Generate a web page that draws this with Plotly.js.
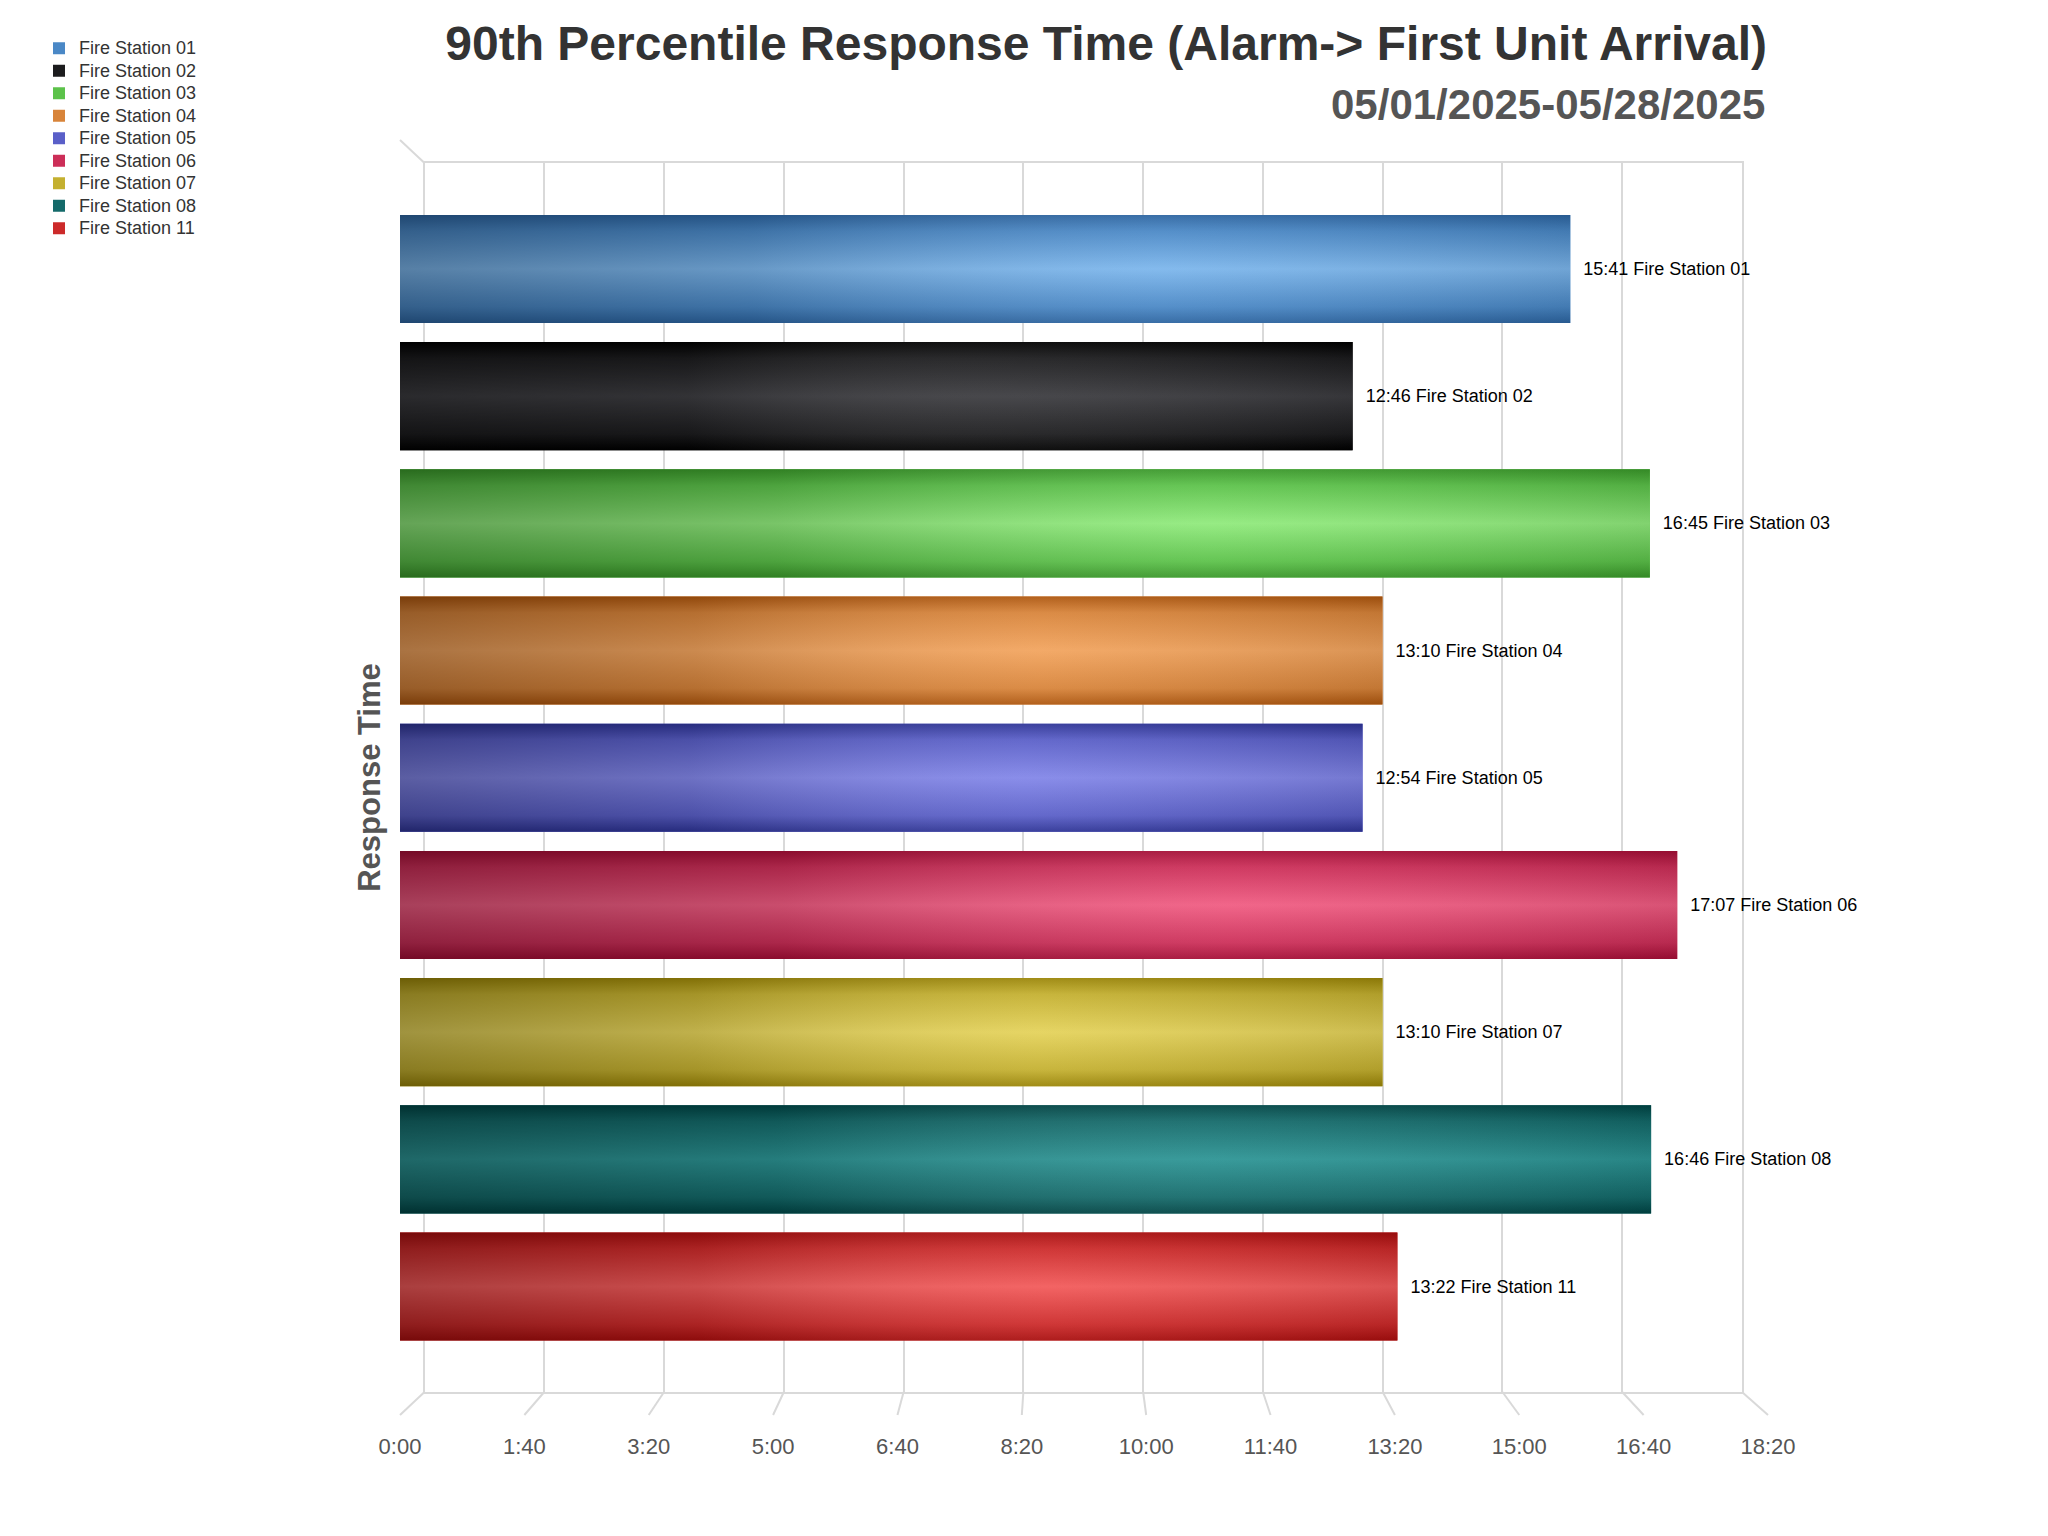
<!DOCTYPE html>
<html>
<head>
<meta charset="utf-8">
<script src="https://cdn.plot.ly/plotly-3.0.1.min.js"></script>
<style>
html,body{margin:0;padding:0;background:#ffffff;}
#chart{width:2048px;height:1536px;}
</style>
</head>
<body>
<div id="chart"></div>
<script>
// ---------------- data ----------------
const stations = ['Fire Station 01','Fire Station 02','Fire Station 03','Fire Station 04','Fire Station 05','Fire Station 06','Fire Station 07','Fire Station 08','Fire Station 11'];
const responseTimes = ['15:41','12:46','16:45','13:10','12:54','17:07','13:10','16:46','13:22'];
const tickLabels = ['0:00','1:40','3:20','5:00','6:40','8:20','10:00','11:40','13:20','15:00','16:40','18:20'];
const midColors   = ['#4a88c6','#1c1c1e','#5cc24a','#d8843a','#5a5fc8','#cc2e58','#c4b030','#146a6a','#cc2a2a'];
const darkColors  = ['#2c64a0','#000000','#3a982a','#ad560e','#2e3496','#a50e36','#9a8508','#004545','#a80e0e'];
const lightColors = ['#7cb6ec','#3c3c40','#90ea7c','#f2a45e','#8286e8','#f05c82','#e4d25a','#2c9494','#f25a5a'];

const titleText = '90th Percentile Response Time (Alarm-> First Unit Arrival)';
const subtitleText = '05/01/2025-05/28/2025';
const yTitle = 'Response Time';

// ---------------- helpers ----------------
function toSeconds(s){ const p = s.split(':'); return (+p[0])*60 + (+p[1]); }
const values = responseTimes.map(toSeconds);
const tickVals = tickLabels.map(toSeconds);
const xMax = tickVals[tickVals.length-1];
const idx = stations.map((_, i) => i);
const barWidth = 0.85;

// layout geometry (paper fractions)
const W = 2048, H = 1536;
const frontDom = [400/W, 1768/W];
const backDom  = [424.5/W, 1742/W];
const yDom     = [1 - 1392/H, 1 - 163/H];
const frontPos = 1 - 1415/H;
const frontTop = 1 - 140/H;
const fx = t => frontDom[0] + t/xMax*(frontDom[1]-frontDom[0]);
const bx = t => backDom[0]  + t/xMax*(backDom[1]-backDom[0]);

const gridColor = '#d9d9d9';
const fontFam = 'Liberation Sans, Arial, Helvetica, sans-serif';

// ---------------- traces ----------------
const traces = [];
// back wall subplot carrier (no visible marks)
traces.push({
  type: 'scatter', mode: 'markers', x: tickVals, y: tickVals.map(() => null),
  xaxis: 'x', yaxis: 'y', marker: {opacity: 0}, showlegend: false, hoverinfo: 'skip'
});
stations.forEach((name, i) => {
  traces.push({
    type: 'bar', orientation: 'h',
    x: [values[i]], y: [idx[i]],
    xaxis: 'x2', yaxis: 'y',
    width: barWidth,
    name: '<span style="font-size:18px">' + name + '</span>',
    marker: {color: midColors[i], line: {width: 0}},
    text: [responseTimes[i] + ' ' + name],
    texttemplate: '\u00a0\u00a0%{text}',
    textposition: 'outside',
    constraintext: 'none',
    cliponaxis: false,
    textfont: {family: fontFam, size: 18, color: '#000000'},
    hoverinfo: 'skip',
    legendrank: i
  });
});
// shading overlays (same geometry as the bars, built from the same arrays)
stations.forEach((name, i) => {
  const y0 = idx[i] - barWidth/2, y1 = idx[i] + barWidth/2;
  const poly = {x: [0, values[i], values[i], 0, 0], y: [y0, y0, y1, y1, y0]};
  traces.push({
    type: 'scatter', mode: 'lines', x: poly.x, y: poly.y, xaxis: 'x2', yaxis: 'y',
    fill: 'toself', line: {width: 0},
    fillgradient: {type: 'vertical', colorscale: [[0, darkColors[i]], [0.15, midColors[i]], [0.5, lightColors[i]], [0.85, midColors[i]], [1, darkColors[i]]]},
    showlegend: false, hoverinfo: 'skip'
  });
  traces.push({
    type: 'scatter', mode: 'lines', x: poly.x, y: poly.y, xaxis: 'x2', yaxis: 'y',
    fill: 'toself', line: {width: 0},
    fillgradient: {type: 'horizontal', colorscale: [[0, 'rgba(0,0,0,0.30)'], [0.3, 'rgba(0,0,0,0.16)'], [0.65, 'rgba(255,255,255,0.06)'], [1, 'rgba(0,0,0,0.10)']]},
    showlegend: false, hoverinfo: 'skip'
  });
});

// ---------------- perspective edges ----------------
const shapes = tickVals.map(t => ({
  type: 'line', xref: 'paper', yref: 'paper', layer: 'below',
  x0: bx(t), y0: yDom[0], x1: fx(t), y1: frontPos,
  line: {color: gridColor, width: 2}
}));
shapes.push({
  type: 'line', xref: 'paper', yref: 'paper', layer: 'below',
  x0: bx(0), y0: yDom[1], x1: fx(0), y1: frontTop,
  line: {color: gridColor, width: 2}
});

// ---------------- layout ----------------
const layout = {
  width: W, height: H,
  margin: {l: 0, r: 0, t: 0, b: 0},
  paper_bgcolor: '#ffffff',
  plot_bgcolor: 'rgba(0,0,0,0)',
  font: {family: fontFam, color: '#333333'},
  barmode: 'overlay',
  showlegend: true,
  title: {
    text: titleText,
    font: {family: fontFam, size: 48, color: '#333333', weight: 'bold'},
    x: 1767/W, xanchor: 'right', xref: 'paper',
    y: 1 - 43/H, yanchor: 'middle', yref: 'container'
  },
  annotations: [{
    text: subtitleText, showarrow: false,
    xref: 'paper', yref: 'paper', x: 1767/W, xanchor: 'right', y: 1 - 104/H, yanchor: 'middle',
    font: {family: fontFam, size: 42, color: '#555555', weight: 'bold'}
  }],
  legend: {
    x: 39/W, xanchor: 'left', y: 1 - 32/H, yanchor: 'top',
    font: {family: fontFam, size: 15, color: '#333333'},
    bgcolor: 'rgba(0,0,0,0)', tracegroupgap: 0, itemclick: false
  },
  xaxis: {   // back wall
    domain: backDom, range: [0, xMax], anchor: 'y',
    tickvals: tickVals, showticklabels: false, ticks: '',
    showgrid: true, gridcolor: gridColor, gridwidth: 2,
    zeroline: false, showline: true, mirror: true, linecolor: gridColor, linewidth: 2,
    fixedrange: true
  },
  xaxis2: {  // front plane (bars + tick labels)
    domain: frontDom, range: [0, xMax], anchor: 'free', position: frontPos,
    tickvals: tickVals, ticktext: tickLabels, ticks: '',
    tickfont: {family: fontFam, size: 22, color: '#555555'},
    ticklabelstandoff: 16,
    showgrid: false, zeroline: false, showline: false,
    fixedrange: true
  },
  yaxis: {
    domain: yDom, range: [8.829, -0.833], anchor: 'x',
    showticklabels: false, ticks: '', showgrid: false, zeroline: false,
    showline: true, mirror: true, linecolor: gridColor, linewidth: 2,
    title: {text: yTitle, font: {family: fontFam, size: 31, color: '#555555', weight: 'bold'}, standoff: 33},
    fixedrange: true
  },
  shapes: shapes
};

Plotly.newPlot('chart', traces, layout, {displayModeBar: false, staticPlot: true});
</script>
</body>
</html>
